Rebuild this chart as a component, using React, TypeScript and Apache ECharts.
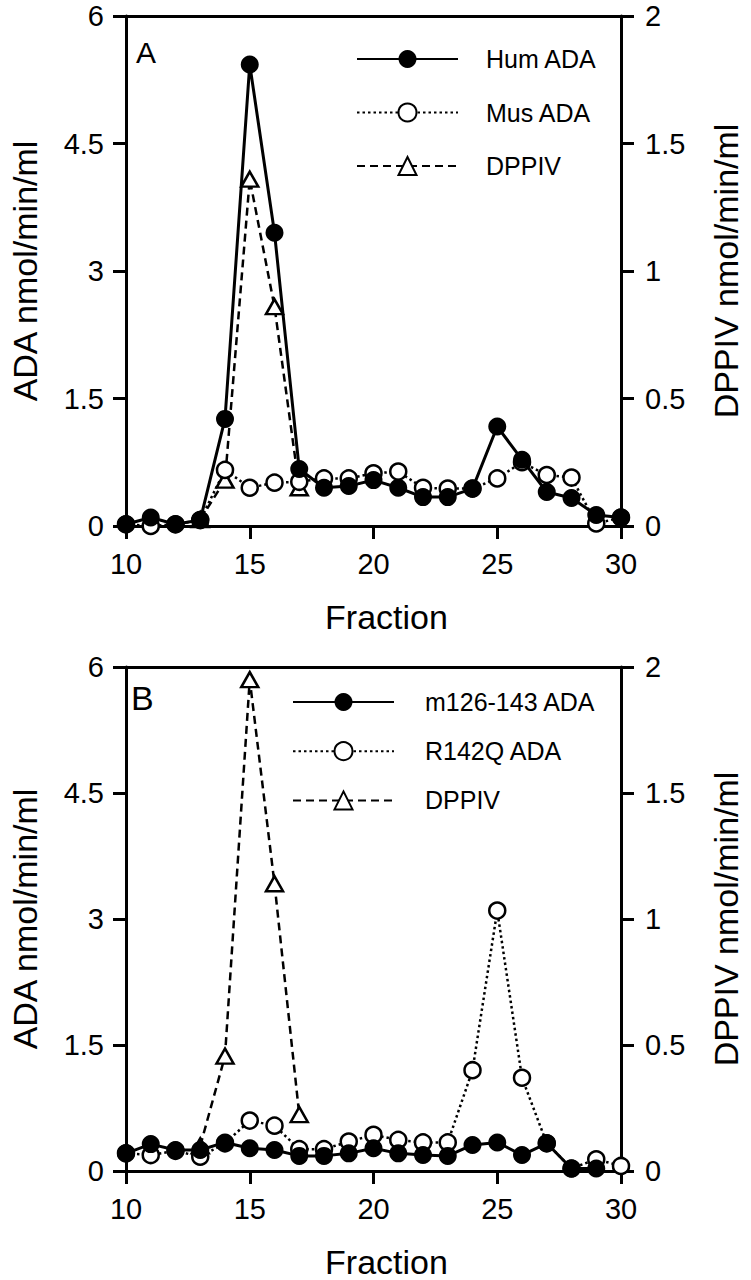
import React, { useEffect, useRef } from "react";
import * as echarts from "echarts";

// ---------- data ----------
const fractionsA = [10, 11, 12, 13, 14, 15, 16, 17, 18, 19, 20, 21, 22, 23, 24, 25, 26, 27, 28, 29, 30];
const humADA = [0.02, 0.1, 0.02, 0.07, 1.26, 5.43, 3.45, 0.67, 0.45, 0.47, 0.54, 0.45, 0.34, 0.34, 0.44, 1.17, 0.78, 0.4, 0.33, 0.13, 0.1];
const musADA = [0.02, 0.0, 0.02, 0.07, 0.66, 0.45, 0.51, 0.52, 0.56, 0.56, 0.62, 0.64, 0.45, 0.44, 0.44, 0.56, 0.75, 0.6, 0.57, 0.03, 0.1];
const dppivFractionsA = [13, 14, 15, 16, 17];
const dppivA = [0.025, 0.18, 1.36, 0.86, 0.15];

const fractionsB = [10, 11, 12, 13, 14, 15, 16, 17, 18, 19, 20, 21, 22, 23, 24, 25, 26, 27, 28, 29, 30];
const m126ADA = [0.21, 0.32, 0.25, 0.25, 0.34, 0.27, 0.25, 0.18, 0.18, 0.21, 0.27, 0.21, 0.19, 0.18, 0.31, 0.34, 0.19, 0.33, 0.03, 0.03];
const r142qADA = [0.21, 0.19, 0.24, 0.17, 0.33, 0.6, 0.54, 0.26, 0.26, 0.35, 0.43, 0.37, 0.34, 0.34, 1.2, 3.1, 1.11, 0.33, 0.03, 0.14, 0.06];
const dppivFractionsB = [13, 14, 15, 16, 17];
const dppivB = [0.1, 0.456, 1.95, 1.14, 0.224];

const adaTicks = { min: 0, max: 6, interval: 1.5 };
const dppivTicks = { min: 0, max: 2, interval: 0.5 };
const fractionTicks = { min: 10, max: 30, interval: 5 };

const legendA = ["Hum ADA", "Mus ADA", "DPPIV"];
const legendB = ["m126-143 ADA", "R142Q ADA", "DPPIV"];

const FONT = "Liberation Sans, Arial, Helvetica, sans-serif";

function pairs(xs: number[], ys: number[]) {
  return ys.map((y, i) => [xs[i], y]);
}

export default function App() {
  const ref = useRef<HTMLDivElement>(null);

  useEffect(() => {
    if (!ref.current) return;
    const chart = echarts.init(ref.current, undefined, { renderer: "svg" });

    const axisLine = { show: true, onZero: false, lineStyle: { color: "#000", width: 3 } };
    const axisTick = { show: true, inside: false, length: 13, lineStyle: { color: "#000", width: 3 } };
    const labelStyle = { color: "#000", fontSize: 29, fontFamily: FONT };
    const nameStyle = { color: "#000", fontSize: 34, fontFamily: FONT };

    const mkX = (gridIndex: number) => ({
      type: "value",
      gridIndex,
      position: "bottom",
      ...fractionTicks,
      axisLine,
      axisTick,
      axisLabel: { ...labelStyle, margin: 23 },
      splitLine: { show: false },
      name: "Fraction",
      nameLocation: "middle",
      nameGap: 74,
      nameTextStyle: { ...nameStyle, padding: [0, 0, 0, 26] },
    });
    const mkXTop = (gridIndex: number) => ({
      type: "value",
      gridIndex,
      position: "top",
      ...fractionTicks,
      axisLine,
      axisTick: { show: false },
      axisLabel: { show: false },
      splitLine: { show: false },
    });
    const mkYLeft = (gridIndex: number) => ({
      type: "value",
      gridIndex,
      position: "left",
      ...adaTicks,
      axisLine,
      axisTick,
      axisLabel: { ...labelStyle, margin: 22 },
      splitLine: { show: false },
      name: "ADA nmol/min/ml",
      nameLocation: "middle",
      nameGap: 84,
      nameTextStyle: nameStyle,
    });
    const mkYRight = (gridIndex: number) => ({
      type: "value",
      gridIndex,
      position: "right",
      ...dppivTicks,
      axisLine,
      axisTick,
      axisLabel: { ...labelStyle, margin: 24 },
      splitLine: { show: false },
      name: "DPPIV nmol/min/ml",
      nameLocation: "middle",
      nameGap: 88,
      nameTextStyle: nameStyle,
    });

    const filled = (name: string, xi: number, yi: number, data: number[][]) => ({
      name,
      type: "line",
      xAxisIndex: xi,
      yAxisIndex: yi,
      data,
      symbol: "circle",
      symbolSize: 18,
      showAllSymbol: true,
      clip: false,
      z: 5,
      lineStyle: { color: "#000", width: 3, type: "solid" },
      itemStyle: { color: "#000", borderColor: "#000", borderWidth: 0 },
      silent: true,
    });
    const open = (name: string, xi: number, yi: number, data: number[][]) => ({
      name,
      type: "line",
      xAxisIndex: xi,
      yAxisIndex: yi,
      data,
      symbol: "circle",
      symbolSize: 16,
      showAllSymbol: true,
      clip: false,
      z: 4,
      lineStyle: { color: "#000", width: 2.5, type: [2.5, 3] },
      itemStyle: { color: "#fff", borderColor: "#000", borderWidth: 2.5 },
      silent: true,
    });
    const tri = (name: string, xi: number, yi: number, data: number[][]) => ({
      name,
      type: "line",
      xAxisIndex: xi,
      yAxisIndex: yi,
      data,
      symbol: "triangle",
      symbolSize: [17, 15],
      showAllSymbol: true,
      clip: false,
      z: 3,
      lineStyle: { color: "#000", width: 2.5, type: [8, 5] },
      itemStyle: { color: "#fff", borderColor: "#000", borderWidth: 2.5 },
      silent: true,
    });

    const legendText = (padLeft: number) => ({
      color: "#000",
      fontSize: 25,
      fontFamily: FONT,
      lineHeight: 25,
      padding: [0, 0, 0, padLeft],
    });

    const option: any = {
      animation: false,
      backgroundColor: "#fff",
      grid: [
        { left: 125, top: 16, width: 508, height: 510 },
        { left: 123, top: 667, width: 507, height: 509 },
      ],
      xAxis: [mkX(0), mkXTop(0), mkX(1), mkXTop(1)],
      yAxis: [mkYLeft(0), mkYRight(0), mkYLeft(1), mkYRight(1)],
      legend: [
        {
          orient: "vertical",
          left: 356,
          top: 46.5,
          padding: 0,
          itemWidth: 101,
          itemHeight: 22.5,
          itemGap: 28.5,
          data: legendA,
          selectedMode: false,
          textStyle: legendText(23),
        },
        {
          orient: "vertical",
          left: 292,
          top: 689.5,
          padding: 0,
          itemWidth: 101,
          itemHeight: 22.5,
          itemGap: 24.2,
          data: legendB,
          selectedMode: false,
          textStyle: legendText(26),
        },
      ],
      graphic: [
        { type: "text", left: 136, top: 37, style: { text: "A", fontSize: 30, fontFamily: FONT, fill: "#000" } },
        { type: "text", left: 131, top: 681, style: { text: "B", fontSize: 34, fontFamily: FONT, fill: "#000" } },
      ],
      series: [
        tri(legendA[2], 0, 1, pairs(dppivFractionsA, dppivA)),
        open(legendA[1], 0, 0, pairs(fractionsA, musADA)),
        filled(legendA[0], 0, 0, pairs(fractionsA, humADA)),
        tri(legendB[2], 2, 3, pairs(dppivFractionsB, dppivB)),
        open(legendB[1], 2, 2, pairs(fractionsB, r142qADA)),
        filled(legendB[0], 2, 2, pairs(fractionsB, m126ADA)),
      ],
    };

    chart.setOption(option);
    return () => chart.dispose();
  }, []);

  return (
    <div
      ref={ref}
      style={{ position: "absolute", left: 0, top: 0, width: 751, height: 1280, background: "#fff" }}
    />
  );
}
